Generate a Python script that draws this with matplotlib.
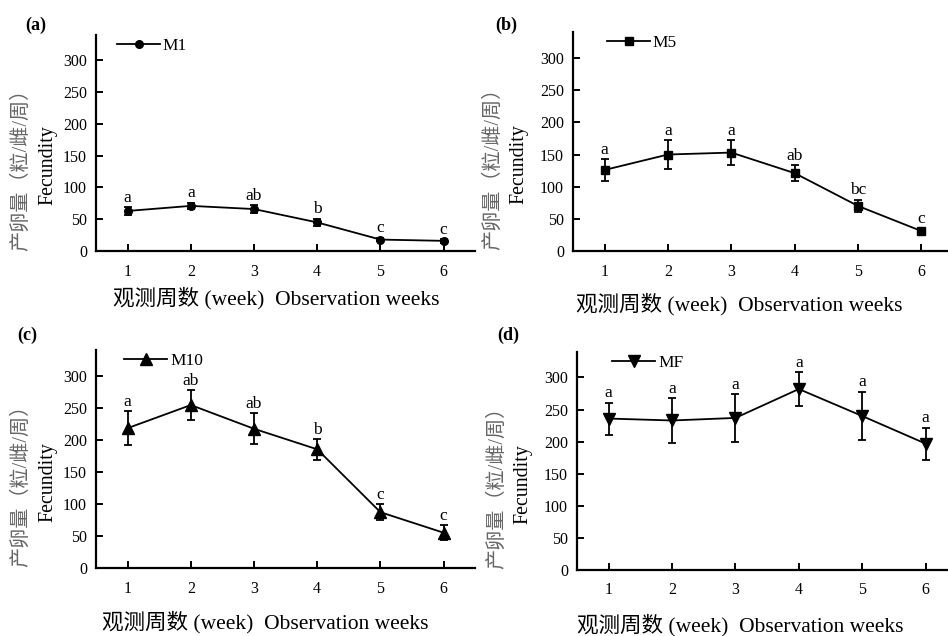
import matplotlib
matplotlib.use('Agg')
import matplotlib.pyplot as plt

# 字體：英文用襯線體，中文回落到 Noto Sans CJK
plt.rcParams['font.family'] = ['Liberation Serif', 'Noto Sans CJK SC']
plt.rcParams['axes.unicode_minus'] = False

# --- 數據 ---
weeks = [1, 2, 3, 4, 5, 6]

m1_mean = [63, 71, 66, 45, 18, 16]
m1_err = [6, 5, 6, 6, 3, 3]
m1_sig = ['a', 'a', 'ab', 'b', 'c', 'c']

m5_mean = [126, 150, 153, 121, 70, 31]
m5_err = [17, 22, 19, 12, 10, 4]
m5_sig = ['a', 'a', 'a', 'ab', 'bc', 'c']

m10_mean = [218, 254, 217, 185, 87, 55]
m10_err = [26, 23, 24, 16, 12, 12]
m10_sig = ['a', 'ab', 'ab', 'b', 'c', 'c']

mf_mean = [236, 233, 237, 282, 240, 197]
mf_err = [25, 35, 37, 26, 38, 25]
mf_sig = ['a', 'a', 'a', 'a', 'a', 'a']

yticks = [0, 50, 100, 150, 200, 250, 300]

# (標籤, 名稱, 標記, 大小, 均值, 誤差, 顯著性, 軸位置, 標籤位置, 圖例x, x軸標題位置, 左側?)
panels = [
    ('(a)', 'M1', 'o', 5.5, m1_mean, m1_err, m1_sig, [0.1013, 0.6053, 0.400, 0.340], (25, 25), 0.055, (0.474, -0.218), True),
    ('(b)', 'M5', 's', 5.5, m5_mean, m5_err, m5_sig, [0.6044, 0.6053, 0.401, 0.344], (495, 25), 0.089, (0.438, -0.242), False),
    ('(c)', 'M10', '^', 8.5, m10_mean, m10_err, m10_sig, [0.1013, 0.1069, 0.400, 0.343], (17, 335), 0.074, (0.445, -0.246), True),
    ('(d)', 'MF', 'v', 8, mf_mean, mf_err, mf_sig, [0.6087, 0.1038, 0.401, 0.343], (497, 335), 0.092, (0.429, -0.252), False),
]

fig = plt.figure(figsize=(9.48, 6.36), dpi=100)
W, H = 948, 636

for tag, name, mk, ms, mean, err, sig, rect, tagpos, legx, xlab, left in panels:
    ax = fig.add_axes(rect)
    eb = ax.errorbar(weeks, mean, yerr=err, color='black', marker=mk, ms=ms,
                     lw=1.3, elinewidth=1.3, capsize=3, capthick=1.3)
    for x, m, e, s in zip(weeks, mean, err, sig):
        ax.annotate(s, (x, m + e), xytext=(0, 1), textcoords='offset points',
                    ha='center', va='bottom', fontsize=12.5)
    ax.set_xlim(0.5, 6.5)
    ax.set_ylim(0, 340)
    ax.set_xticks(weeks)
    ax.set_yticks(yticks)
    for side in ['top', 'right']:
        ax.spines[side].set_visible(False)
    for side in ['left', 'bottom']:
        ax.spines[side].set_linewidth(1.6)
    ax.tick_params(direction='in', length=5, width=1.4, labelsize=11.5)
    ax.tick_params(axis='x', pad=9)
    ax.tick_params(axis='y', pad=6.5)
    # x 軸標題
    ax.text(xlab[0], xlab[1], '观测周数 (week)  Observation weeks', transform=ax.transAxes,
            ha='center', va='center', fontsize=15.5)
    ax.legend([eb.lines[0]], [name], loc='center left', bbox_to_anchor=(legx, 0.95),
              frameon=False, fontsize=12.5, handlelength=2.5, handletextpad=0.15,
              borderaxespad=0, borderpad=0)
    # 兩行 y 軸標籤：中文灰色，英文黑色
    cx, fx = (-0.196, -0.128) if left else (-0.21, -0.143)
    ax.text(cx, 0.4, '产卵量（粒/雌/周）', transform=ax.transAxes, rotation=90,
            ha='center', va='center', fontsize=14.5, color='#666666')
    ax.text(fx, 0.395, 'Fecundity', transform=ax.transAxes, rotation=90,
            ha='center', va='center', fontsize=14.3)
    fig.text(tagpos[0] / W, 1 - tagpos[1] / H, tag, fontsize=13, fontweight='bold',
             ha='left', va='center')

fig.savefig('out.png', dpi=100)
